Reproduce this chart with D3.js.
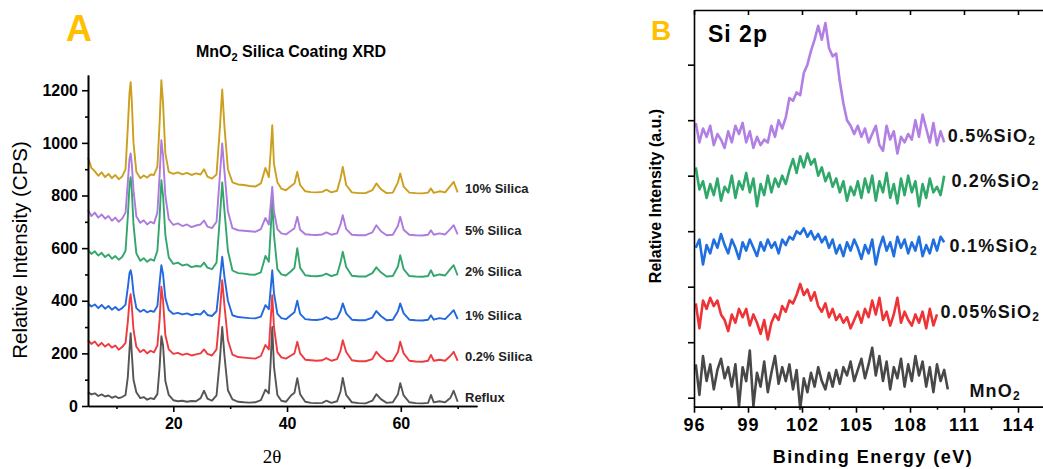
<!DOCTYPE html>
<html>
<head>
<meta charset="utf-8">
<script src="https://d3js.org/d3.v7.min.js"></script>
<style>
  body { margin: 0; background: #fff; }
  svg { display: block; font-family: "Liberation Sans", Arial, sans-serif; }
  .axis path, .axis line { stroke: #000; stroke-width: 1.6; }
  .axis text { font-size: 16px; font-weight: bold; fill: #000; }
  .axis-b text { font-size: 18px; letter-spacing: 1px; }
</style>
</head>
<body>
<div id="chart"></div>
<script>
// ---------- Panel A : XRD ----------
var twoTheta = [5, 5.6, 6.2, 6.8, 7.4, 8, 8.6, 9.2, 9.8, 10.4, 11, 11.6, 12.0, 12.3, 12.5, 12.7, 13.0, 13.5, 14.2, 14.8,
  15.4, 16, 16.6, 17.2, 17.6, 17.9, 18.2, 18.6, 19.2, 20, 20.8, 21.6, 22.4, 23.2, 24, 24.8, 25.4, 26, 26.8, 27.6,
  28.2, 28.6, 29.0, 29.6, 30.4, 31.4, 32.4, 33.4, 34.4, 35.4, 36.2, 36.8, 37.1, 37.4, 37.7, 38.3, 39, 39.8, 40.7, 41.3,
  41.8, 42.3, 43.2, 44.2, 45.2, 46.2, 46.9, 47.8, 48.8, 49.4, 49.8, 50.4, 51.4, 52.6, 53.8, 55, 55.7, 56.5, 57.5, 58.6,
  59.5, 59.9, 60.5, 61.5, 62.6, 63.8, 64.8, 65.3, 65.8, 66.8, 67.8, 68.7, 69.3, 70];

var reflux = [52, 44, 48, 38, 44, 36, 40, 31, 37, 30, 34, 42, 110, 215, 277, 200, 100, 52, 30, 34,
  24, 30, 26, 45, 150, 265, 230, 95, 42, 22, 18, 20, 16, 19, 18, 30, 58, 28, 20, 40,
  180, 300, 190, 60, 25, 16, 14, 13, 14, 22, 62, 48, 160, 300, 150, 42, 20, 16, 40, 50,
  106, 45, 16, 12, 11, 12, 20, 12, 18, 55, 107, 42, 14, 11, 10, 20, 45, 26, 12, 14,
  45, 87, 40, 14, 11, 10, 12, 42, 14, 18, 14, 30, 58, 16];

var silica02 = [250, 236, 245, 228, 240, 226, 236, 222, 230, 214, 224, 240, 320, 400, 425, 380, 290, 225, 205, 214,
  200, 210, 204, 230, 330, 453, 400, 270, 215, 198, 202, 194, 199, 192, 196, 200, 215, 198, 192, 215,
  360, 478, 380, 250, 195, 186, 184, 182, 180, 190, 232, 215, 320, 421, 300, 205, 185, 180, 192, 200,
  244, 200, 176, 174, 172, 174, 182, 172, 178, 210, 250, 205, 174, 170, 170, 178, 206, 186, 170, 172,
  205, 244, 200, 172, 169, 168, 172, 194, 172, 176, 172, 190, 206, 172];

var silica1 = [390, 378, 386, 372, 384, 370, 380, 366, 376, 364, 372, 385, 450, 505, 516, 495, 430, 372, 358, 366,
  356, 362, 358, 380, 470, 535, 500, 410, 365, 350, 354, 348, 352, 345, 350, 348, 362, 346, 342, 360,
  480, 567, 490, 400, 345, 338, 336, 334, 333, 340, 383, 368, 440, 516, 430, 350, 334, 330, 346, 356,
  400, 350, 330, 328, 327, 330, 338, 328, 334, 360, 390, 352, 328, 326, 326, 336, 361, 342, 326, 328,
  360, 390, 352, 328, 326, 325, 328, 345, 328, 334, 330, 350, 364, 330];

var silica2 = [592, 578, 588, 572, 582, 566, 576, 560, 570, 556, 566, 590, 720, 840, 870, 820, 690, 580, 552, 562,
  548, 558, 552, 590, 720, 858, 800, 650, 565, 540, 545, 534, 538, 528, 532, 530, 545, 526, 520, 545,
  720, 850, 740, 590, 515, 505, 503, 500, 499, 508, 570, 548, 660, 782, 650, 520, 500, 496, 512, 525,
  600, 525, 497, 494, 493, 496, 503, 494, 500, 545, 586, 528, 495, 492, 492, 505, 527, 508, 492, 494,
  530, 573, 520, 494, 492, 491, 494, 516, 494, 500, 496, 520, 535, 496];

var silica5 = [745, 722, 735, 716, 728, 712, 722, 704, 716, 700, 712, 735, 850, 940, 960, 920, 820, 720, 696, 706,
  690, 700, 694, 735, 880, 1010, 950, 800, 710, 688, 694, 684, 690, 680, 686, 690, 705, 682, 676, 700,
  880, 998, 890, 740, 676, 668, 666, 664, 662, 672, 715, 690, 760, 833, 740, 672, 656, 652, 666, 676,
  719, 670, 653, 651, 650, 652, 660, 651, 656, 690, 725, 672, 651, 649, 649, 660, 687, 664, 649, 651,
  685, 719, 670, 651, 649, 648, 651, 668, 651, 656, 652, 672, 687, 652];

var silica10 = [945, 905, 892, 875, 888, 870, 882, 866, 878, 862, 872, 900, 1060, 1190, 1231, 1160, 1000, 890, 866, 876,
  868, 880, 878, 910, 1080, 1238, 1150, 960, 890, 882, 888, 880, 886, 878, 884, 880, 900, 872, 864, 880,
  1060, 1203, 1060, 900, 850, 842, 840, 836, 834, 846, 905, 870, 960, 1067, 920, 850, 826, 820, 836, 846,
  890, 840, 816, 813, 812, 814, 822, 812, 818, 865, 909, 840, 812, 809, 809, 820, 846, 824, 809, 811,
  850, 884, 834, 811, 809, 808, 811, 827, 810, 816, 812, 836, 852, 812];

var xrdNames = ["Reflux", "0.2% Silica", "1% Silica", "2% Silica", "5% Silica", "10% Silica"];
var xrdSeries = [reflux, silica02, silica1, silica2, silica5, silica10];
var xrdColors = ["#555555", "#ee3b3f", "#2368de", "#34a66c", "#ad7ade", "#cc9f1e"];
var xrdTicks = [0, 200, 400, 600, 800, 1000, 1200];

// ---------- Panel B : XPS Si 2p ----------
var energy = [96.1, 96.3, 96.5, 96.7, 96.9, 97.1, 97.3, 97.5, 97.7, 97.9, 98.1, 98.3, 98.5, 98.7, 98.9, 99.1, 99.3, 99.5,
  99.7, 99.9, 100.1, 100.3, 100.5, 100.7, 100.9, 101.1, 101.3, 101.5, 101.7, 101.9, 102.1, 102.3, 102.5, 102.7, 102.9,
  103.1, 103.3, 103.5, 103.7, 103.9, 104.1, 104.3, 104.5, 104.7, 104.9, 105.1, 105.3, 105.5, 105.7, 105.9, 106.1,
  106.3, 106.5, 106.7, 106.9, 107.1, 107.3, 107.5, 107.7, 107.9, 108.1, 108.3, 108.5, 108.7, 108.9, 109.1, 109.3,
  109.5, 109.7, 109.9, 110.1];

var sio2_05 = [4.95, 4.6, 4.85, 4.7, 4.9, 4.55, 4.75, 4.65, 4.5, 4.8, 4.6, 4.9, 4.75, 4.95, 4.6, 4.8, 4.5, 4.7, 4.55, 4.65,
  4.6, 4.9, 4.7, 5.0, 4.85, 5.05, 5.4, 5.35, 5.5, 5.45, 5.85, 6.0, 6.25, 6.45, 6.7, 6.45, 6.75, 6.3, 6.15, 6.2,
  5.7, 5.3, 5.0, 4.9, 4.75, 4.9, 4.7, 4.85, 4.6, 4.75, 4.9, 4.55, 4.45, 4.9, 4.65, 4.8, 4.4, 4.7, 4.6, 4.75,
  4.65, 5.0, 4.7, 5.1, 4.85, 4.6, 4.95, 4.55, 4.8, 4.6];

var sio2_02 = [4.15, 3.75, 3.9, 3.6, 3.85, 3.65, 3.95, 3.55, 3.8, 3.7, 4.0, 3.6, 3.9, 3.75, 4.05, 3.7, 3.95, 3.45, 3.85, 3.65,
  4.0, 3.7, 3.95, 3.8, 4.0, 3.85, 4.1, 4.3, 4.05, 4.35, 4.15, 4.4, 4.2, 4.3, 4.0, 4.15, 3.9, 4.05, 3.8, 3.95,
  3.7, 3.9, 3.55, 3.8, 3.65, 3.9, 3.6, 3.95, 3.7, 4.0, 3.55, 3.9, 3.7, 4.05, 3.6, 3.85, 3.5, 3.95, 3.65, 4.0,
  3.7, 3.9, 3.45, 3.85, 3.6, 3.95, 3.7, 3.8, 3.65, 4.0];

var sio2_01 = [2.7, 2.85, 2.4, 2.75, 2.6, 2.85, 2.7, 2.95, 2.75, 2.6, 2.85, 2.7, 2.5, 2.8, 2.65, 2.85, 2.7, 2.55, 2.8, 2.65,
  2.85, 2.7, 2.8, 2.6, 2.85, 2.75, 2.9, 2.85, 3.0, 2.95, 3.05, 2.9, 3.0, 2.85, 2.95, 2.8, 2.9, 2.7, 2.85, 2.6,
  2.75, 2.55, 2.8, 2.65, 2.85, 2.7, 2.5, 2.75, 2.6, 2.85, 2.4, 2.7, 2.9, 2.65, 2.8, 2.55, 2.9, 2.7, 2.85, 2.6,
  2.8, 2.65, 2.9, 2.55, 2.75, 2.6, 2.85, 2.65, 2.9, 2.8];

var sio2_005 = [1.7, 1.25, 1.75, 1.6, 1.8, 1.65, 1.75, 1.5, 1.4, 1.2, 1.5, 1.35, 1.6, 1.45, 1.6, 1.3, 1.5, 1.35, 1.15, 1.4,
  1.05, 1.35, 1.5, 1.4, 1.65, 1.55, 1.75, 1.7, 1.85, 2.05, 1.85, 1.95, 1.75, 1.9, 1.65, 1.55, 1.7, 1.45, 1.6, 1.4,
  1.5, 1.35, 1.45, 1.25, 1.4, 1.55, 1.35, 1.6, 1.45, 1.75, 1.5, 1.8, 1.4, 1.55, 1.3, 1.5, 1.8, 1.35, 1.55, 1.4,
  1.3, 1.5, 1.35, 1.55, 1.25, 1.6, 1.3, 1.5];

var mno2 = [0.6, 0.05, 0.75, 0.3, 0.6, 0.15, 0.5, 0.7, 0.35, 0.55, 0.2, 0.6, -0.15, 0.55, 0.3, 0.85, -0.15, 0.45, 0.2, 0.65,
  0.1, 0.45, 0.75, 0.25, 0.55, 0.3, 0.6, 0.15, 0.5, -0.2, 0.35, 0.1, 0.45, 0.2, 0.55, 0.3, 0.15, 0.45, 0.2, 0.5,
  0.25, 0.55, 0.4, 0.65, 0.3, 0.5, 0.7, 0.35, 0.6, 0.9, 0.4, 0.75, 0.3, 0.65, 0.15, 0.55, 0.35, 0.7, 0.2, 0.6,
  0.3, 0.75, 0.4, 0.65, 0.2, 0.55, 0.1, 0.6, 0.3, 0.5, 0.15];

var xpsNames = ["MnO", "0.05%SiO", "0.1%SiO", "0.2%SiO", "0.5%SiO"];
var xpsSeries = [mno2, sio2_005, sio2_01, sio2_02, sio2_05];
var xpsColors = ["#484848", "#ee3336", "#1f6fe0", "#2fa86a", "#b27fe4"];
var xpsTicks = [96, 99, 102, 105, 108, 111, 114];
// where each label sits (energy, intensity)
var xpsLabelAt = [[111.3, 0.1], [109.7, 1.53], [110.2, 2.72], [110.3, 3.89], [110.1, 4.7]];

var svg = d3.select("#chart").append("svg")
  .attr("width", 1043)
  .attr("height", 469);

// ===== Panel A =====
var x = d3.scaleLinear().domain([5, 73.4]).range([88, 477]);
var y = d3.scaleLinear().domain([0, 1258]).range([406, 75]);

var line = d3.line()
  .x(function(d, i) { return x(twoTheta[i]); })
  .y(function(d) { return y(d); });

var gA = svg.append("g");

xrdSeries.forEach(function(s, k) {
  gA.append("path")
    .datum(s)
    .attr("fill", "none")
    .attr("stroke", xrdColors[k])
    .attr("stroke-width", 1.9)
    .attr("stroke-linejoin", "round")
    .attr("d", line);

  gA.append("text")
    .attr("x", 465)
    .attr("y", y(s[s.length - 1]) - 3)
    .attr("dominant-baseline", "middle")
    .attr("font-size", 13)
    .attr("font-weight", "bold")
    .attr("fill", "#222")
    .text(xrdNames[k]);
});

// minor ticks first
gA.append("g")
  .attr("class", "axis")
  .attr("transform", "translate(88,0)")
  .call(d3.axisLeft(y).tickValues([100, 300, 500, 700, 900, 1100]).tickSize(3).tickSizeOuter(0).tickFormat(""));
gA.append("g")
  .attr("class", "axis")
  .attr("transform", "translate(88,0)")
  .call(d3.axisLeft(y).tickValues(xrdTicks).tickSize(6).tickSizeOuter(0).tickPadding(4).tickFormat(d3.format("d")));

gA.append("g")
  .attr("class", "axis")
  .attr("transform", "translate(0,406)")
  .call(d3.axisBottom(x).tickValues([10, 30, 50, 70]).tickSize(3).tickSizeOuter(0).tickFormat(""));
gA.append("g")
  .attr("class", "axis")
  .attr("transform", "translate(0,406)")
  .call(d3.axisBottom(x).tickValues([20, 40, 60]).tickSize(6).tickSizeOuter(0).tickPadding(6));

gA.append("text")
  .attr("transform", "translate(27,250) rotate(-90)")
  .attr("text-anchor", "middle")
  .attr("font-size", 20.5)
  .text("Relative Intensity (CPS)");

gA.append("text")
  .attr("x", 272)
  .attr("y", 463)
  .attr("text-anchor", "middle")
  .attr("font-family", "'Liberation Serif', 'Times New Roman', serif")
  .attr("font-size", 19)
  .text("2θ");

var title = gA.append("text")
  .attr("x", 291)
  .attr("y", 57)
  .attr("text-anchor", "middle")
  .attr("font-size", 16)
  .attr("font-weight", "bold");
title.append("tspan").text("MnO");
title.append("tspan").attr("font-size", 11).attr("dy", 4).text("2");
title.append("tspan").attr("dy", -4).text(" Silica Coating XRD");

gA.append("text")
  .attr("x", 66)
  .attr("y", 41)
  .attr("font-size", 36)
  .attr("font-weight", "bold")
  .attr("fill", "#ffc000")
  .text("A");

// ===== Panel B =====
var xB = d3.scaleLinear().domain([96, 117.5]).range([694, 1081]);
var yB = d3.scaleLinear().domain([-0.162, 6.985]).range([406.7, 10]);

var lineB = d3.line()
  .x(function(d, i) { return xB(energy[i]); })
  .y(function(d) { return yB(d); });

var gB = svg.append("g");

xpsSeries.forEach(function(s, k) {
  gB.append("path")
    .datum(s)
    .attr("fill", "none")
    .attr("stroke", xpsColors[k])
    .attr("stroke-width", 2.6)
    .attr("stroke-linejoin", "round")
    .attr("d", lineB);

  var t = gB.append("text")
    .attr("x", xB(xpsLabelAt[k][0]))
    .attr("y", yB(xpsLabelAt[k][1]))
    .attr("dominant-baseline", "middle")
    .attr("font-size", 18)
    .attr("font-weight", "bold")
    .attr("letter-spacing", 1.2)
    .attr("fill", "#111");
  t.append("tspan").text(xpsNames[k]);
  t.append("tspan").attr("font-size", 12).attr("dy", 5).attr("letter-spacing", 0).text("2");
});

// frame top
gB.append("g")
  .attr("class", "axis")
  .attr("transform", "translate(0,10)")
  .call(d3.axisTop(xB).tickValues(xpsTicks).tickSize(-5).tickSizeOuter(0).tickFormat(""));

gB.append("g")
  .attr("class", "axis")
  .attr("transform", "translate(694,0)")
  .call(d3.axisLeft(yB).tickValues([0, 1, 2, 3, 4, 5, 6]).tickSize(6).tickSizeOuter(0).tickFormat(""));

gB.append("g")
  .attr("class", "axis")
  .attr("transform", "translate(0,406.7)")
  .call(d3.axisBottom(xB).tickValues([97.5, 100.5, 103.5, 106.5, 109.5, 112.5, 115.5]).tickSize(3).tickSizeOuter(0).tickFormat(""));
gB.append("g")
  .attr("class", "axis axis-b")
  .attr("transform", "translate(0,406.7)")
  .call(d3.axisBottom(xB).tickValues(xpsTicks).tickSize(6).tickSizeOuter(0).tickPadding(6));

gB.append("text")
  .attr("x", 873)
  .attr("y", 463)
  .attr("text-anchor", "middle")
  .attr("font-size", 18)
  .attr("font-weight", "bold")
  .attr("letter-spacing", 1.5)
  .text("Binding Energy (eV)");

gB.append("text")
  .attr("transform", "translate(661,196) rotate(-90)")
  .attr("text-anchor", "middle")
  .attr("font-size", 16)
  .attr("font-weight", "bold")
  .text("Relative Intensity (a.u.)");

gB.append("text")
  .attr("x", 708)
  .attr("y", 42)
  .attr("font-size", 23)
  .attr("font-weight", "bold")
  .attr("letter-spacing", 1)
  .text("Si 2p");

gB.append("text")
  .attr("x", 651)
  .attr("y", 40)
  .attr("font-size", 28)
  .attr("font-weight", "bold")
  .attr("fill", "#ffc000")
  .text("B");
</script>
</body>
</html>
